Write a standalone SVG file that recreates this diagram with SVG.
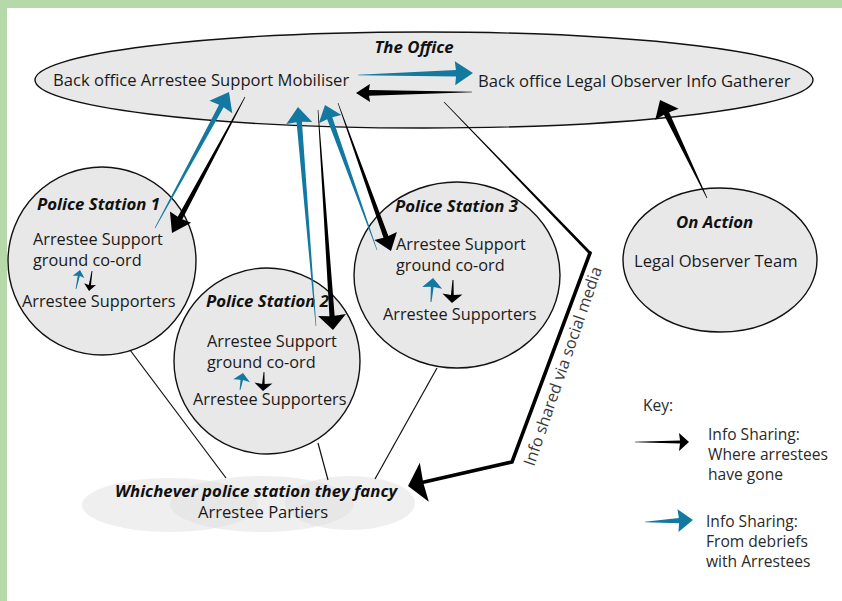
<svg xmlns="http://www.w3.org/2000/svg" width="842" height="601" viewBox="0 0 842 601">
  <style>
    .node { fill: #e8e8e8; stroke: #111; stroke-width: 1.4; }
    .t { font-family: "Open Sans", Lato, "Liberation Sans", sans-serif; font-size: 16.6px; fill: #1a1a1a; }
    .c { font-family: "Open Sans", Lato, "Liberation Sans", sans-serif; font-size: 16.3px; fill: #1a1a1a; }
    .h { font-family: "Open Sans", Lato, "Liberation Sans", sans-serif; font-size: 16.8px; font-weight: bold; font-style: italic; fill: #111; }
    .k { font-family: "Open Sans", Lato, "Liberation Sans", sans-serif; font-size: 15.6px; fill: #2a2a2a; }
    .side { font-family: "Open Sans", Lato, "Liberation Sans", sans-serif; font-size: 16.2px; fill: #3a3a3a; }
    .blue { fill: #1479a0; }
    .black { fill: #000; }
    .link { fill: none; stroke: #111; stroke-width: 1.2; }
    .cloud { fill: #e0e0e0; fill-opacity: 0.5; }
  </style>

  <!-- page background and frame -->
  <rect x="0" y="0" width="842" height="601" fill="#ffffff"/>
  <rect x="0" y="0" width="842" height="8" fill="#b5d9a8"/>
  <rect x="0" y="0" width="7" height="601" fill="#b5d9a8"/>

  <!-- bottom cloud: arrestee partiers -->
  <g id="partiers">
    <ellipse class="cloud" cx="170" cy="505" rx="88" ry="27"/>
    <ellipse class="cloud" cx="262" cy="504" rx="92" ry="28"/>
    <ellipse class="cloud" cx="350" cy="503" rx="65" ry="27"/>
    <text class="h" x="115" y="497">Whichever police station they fancy</text>
    <text class="t" x="198" y="518">Arrestee Partiers</text>
  </g>

  <!-- the office -->
  <g id="office">
    <ellipse class="node" cx="424" cy="80" rx="389" ry="48" stroke-width="1.6"/>
    <text class="h" x="414" y="53" text-anchor="middle">The Office</text>
    <text class="t" x="53" y="86">Back office Arrestee Support Mobiliser</text>
    <text class="t" x="478" y="87">Back office Legal Observer Info Gatherer</text>
  </g>

  <!-- police stations -->
  <g id="station1">
    <circle class="node" cx="102" cy="261" r="94"/>
    <text class="h" x="37" y="210">Police Station 1</text>
    <text class="c" x="33" y="245">Arrestee Support</text>
    <text class="c" x="33" y="266">ground co-ord</text>
    <text class="c" x="22" y="307">Arrestee Supporters</text>
    <polygon class="blue" transform="translate(76,289) rotate(-78.1)" points="0,-0.4 13.4,-1.1 12.4,-6 19.4,0 12.4,6 13.4,1.1 0,0.4"/>
    <polygon class="black" transform="translate(92,271) rotate(98.5)" points="0,-0.4 14.2,-1.1 13.2,-6 20.2,0 13.2,6 14.2,1.1 0,0.4"/>
  </g>

  <g id="station2">
    <circle class="node" cx="267" cy="361" r="93"/>
    <text class="h" x="206" y="307">Police Station 2</text>
    <text class="c" x="207" y="347">Arrestee Support</text>
    <text class="c" x="207" y="368">ground co-ord</text>
    <text class="c" x="193" y="405">Arrestee Supporters</text>
    <polygon class="blue" transform="translate(240,390) rotate(-80)" points="0,-0.4 10.3,-1.3 9.3,-8.5 17.3,0 9.3,8.5 10.3,1.3 0,0.4"/>
    <polygon class="black" transform="translate(264,372) rotate(93)" points="0,-0.4 12,-1.3 11,-9 19,0 11,9 12,1.3 0,0.4"/>
  </g>

  <g id="station3">
    <ellipse class="node" cx="457" cy="275" rx="103" ry="93"/>
    <text class="h" x="395" y="212">Police Station 3</text>
    <text class="c" x="396" y="250">Arrestee Support</text>
    <text class="c" x="396" y="271">ground co-ord</text>
    <text class="c" x="383" y="320">Arrestee Supporters</text>
    <polygon class="blue" transform="translate(431,302) rotate(-85.2)" points="0,-0.5 15.1,-1.4 14.1,-10 24.1,0 14.1,10 15.1,1.4 0,0.5"/>
    <polygon class="black" transform="translate(453,280) rotate(92.5)" points="0,-0.5 15,-1.4 14,-10 23,0 14,10 15,1.4 0,0.5"/>
  </g>

  <!-- legal observers on action -->
  <g id="on-action">
    <ellipse class="node" cx="720" cy="260" rx="97" ry="72"/>
    <text class="h" x="676" y="228">On Action</text>
    <text class="t" x="634" y="267">Legal Observer Team</text>
  </g>

  <!-- connectors: tapered arrows drawn along their own axis -->
  <g id="connectors">
    <!-- station lines to the partiers -->
    <line class="link" x1="130" y1="350" x2="226" y2="478"/>
    <line class="link" x1="318" y1="443" x2="328" y2="480"/>
    <line class="link" x1="437" y1="368" x2="375" y2="479"/>

    <!-- station 1 <-> mobiliser -->
    <polygon class="blue" transform="translate(155,228) rotate(-61.45)" points="0,-0.3 138.8,-2.6 137.8,-13 154.8,0 137.8,13 138.8,2.6 0,0.3"/>
    <polygon class="black" transform="translate(245,97) rotate(118.22)" points="0,-0.3 137.4,-2.6 136.4,-12 154.4,0 136.4,12 137.4,2.6 0,0.3"/>

    <!-- station 2 <-> mobiliser -->
    <polygon class="blue" transform="translate(316,326) rotate(-94.7)" points="0,-0.3 204.7,-2.7 203.7,-13 219.7,0 203.7,13 204.7,2.7 0,0.3"/>
    <polygon class="black" transform="translate(318,110) rotate(86.1)" points="0,-0.3 206.5,-2.6 205.5,-14 220.5,0 205.5,14 206.5,2.6 0,0.3"/>

    <!-- station 3 <-> mobiliser -->
    <polygon class="blue" transform="translate(377,250) rotate(-109.73)" points="0,-0.3 140,-2.7 139,-12 154,0 139,12 140,2.7 0,0.3"/>
    <polygon class="black" transform="translate(338,103) rotate(70.3)" points="0,-0.3 142.2,-2.6 141.2,-12 157.2,0 141.2,12 142.2,2.6 0,0.3"/>

    <!-- mobiliser <-> info gatherer -->
    <polygon class="blue" transform="translate(358,75) rotate(-1)" points="0,-0.3 98,-3.2 97,-12 115,0 97,12 98,3.2 0,0.3"/>
    <polygon class="black" transform="translate(472,92) rotate(179.5)" points="0,-0.3 103,-2.9 102,-9 116,0 102,9 103,2.9 0,0.3"/>

    <!-- on action -> info gatherer -->
    <polygon class="black" transform="translate(707,198) rotate(-115.6)" points="0,-0.3 93.7,-2.9 92.7,-13 108.7,0 92.7,13 93.7,2.9 0,0.3"/>

    <!-- office -> partiers via social media -->
    <polygon class="black" transform="translate(444,102) rotate(45.97)" points="0,-0.3 211,-1.5 211,1.5 0,0.3"/>
    <path d="M590,253 L512,462 L422,482.5" fill="none" stroke="#000" stroke-width="3.6" stroke-linejoin="miter" stroke-linecap="round"/>
    <polygon class="black" transform="translate(512,462) rotate(167)" points="91,-2 90,-20 106.7,0 90,20 91,2"/>
    <text class="side" transform="translate(568,368) rotate(-71)" text-anchor="middle">Info shared via social media</text>
  </g>

  <!-- key -->
  <g id="key">
    <text class="k" x="643" y="411">Key:</text>
    <polygon class="black" transform="translate(635,442)" points="0,-0.3 45,-1.5 44,-9 54,0 44,9 45,1.5 0,0.3"/>
    <text class="k" x="708" y="440">Info Sharing:</text>
    <text class="k" x="708" y="460">Where arrestees</text>
    <text class="k" x="708" y="480">have gone</text>
    <polygon class="blue" transform="translate(645,522) rotate(-2.4)" points="0,-0.3 34,-2.6 33,-11.5 48,0 33,11.5 34,2.6 0,0.3"/>
    <text class="k" x="706" y="527">Info Sharing:</text>
    <text class="k" x="706" y="547">From debriefs</text>
    <text class="k" x="706" y="567">with Arrestees</text>
  </g>
</svg>
